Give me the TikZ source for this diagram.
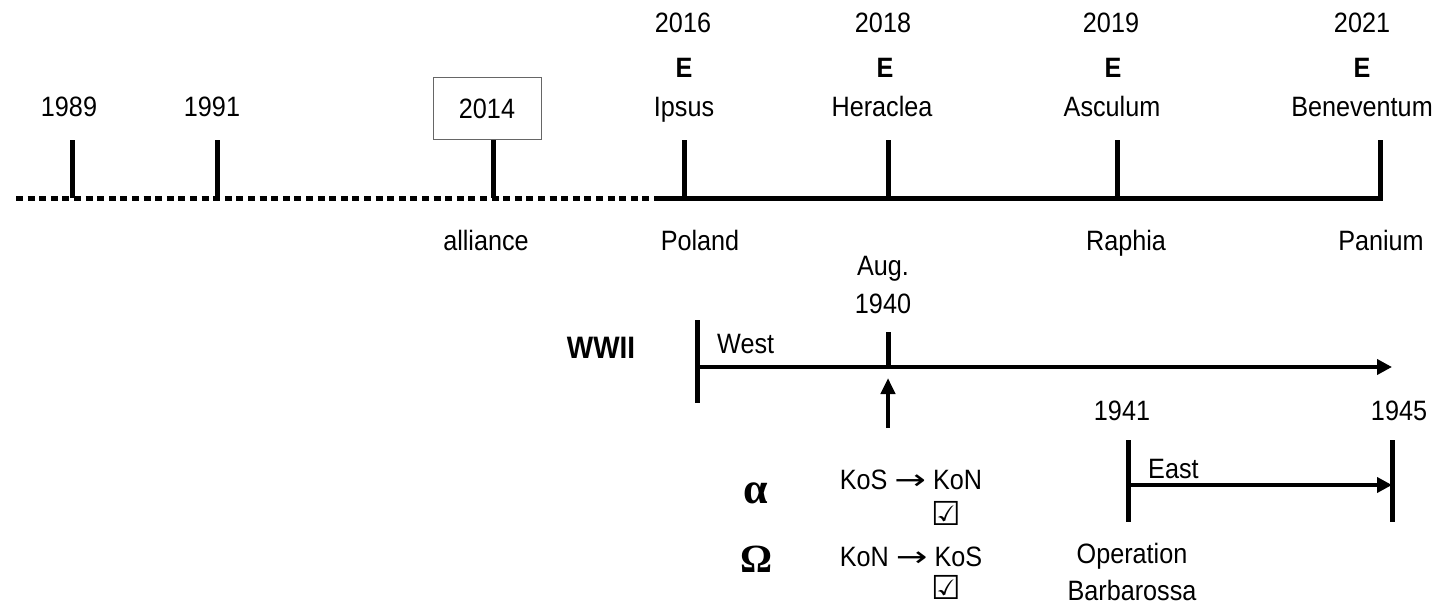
\documentclass[tikz,border=0pt]{standalone}
\usepackage{graphicx}
\usepackage{fontspec}
\setmainfont{Liberation Sans}[FakeStretch=0.9]
\newfontfamily\greekfont{Liberation Serif}
\newfontfamily\symfont{DejaVu Sans}
\usetikzlibrary{arrows.meta}
\newcommand{\longarr}{{\symfont\scalebox{1.35}[1]{→}}}
\begin{document}
\begin{tikzpicture}[x=1pt,y=-1pt,
  lbl/.style={inner sep=0pt,anchor=base,font=\fontsize{28}{30}\selectfont},
  ebold/.style={lbl,font=\fontsize{28}{30}\selectfont\bfseries},
  chkmark/.style={lbl,font=\fontsize{33}{35}\symfont\bfseries},
  tickline/.style={line width=5pt},
  mainline/.style={line width=5pt,line join=miter},
  dotline/.style={line width=5pt,dash pattern=on 7pt off 4.6pt},
  arrowline/.style={line width=4pt,-{Triangle[length=15pt,width=15pt]}},
  yearbox/.style={draw=black!60,line width=1pt,minimum width=108pt,minimum height=61pt,inner sep=0pt,font=\fontsize{28}{30}\selectfont}
]
\useasboundingbox (0,0) rectangle (1442,607);

% ---------- upper timeline ----------
\coordinate (dotA) at (16,198);
\coordinate (dotB) at (660,198);
\draw[dotline] (dotA) -- (dotB);

% tick coordinates
\foreach \n/\x in {a/72,b/217,c/493,d/684,e/888,f/1117,g/1380}{
  \coordinate (tt\n) at (\x,140);
  \coordinate (tb\n) at (\x,198);
}
\draw[mainline] (dotB) -- (tbg) -- (ttg);
\foreach \n in {a,b,c,d,e,f}{
  \draw[tickline] (tb\n) -- (tt\n);
}

% years
\node[lbl] (y2016) at (683,33) {2016};
\node[lbl] (y2018) at (883,33) {2018};
\node[lbl] (y2019) at (1111,33) {2019};
\node[lbl] (y2021) at (1362,33) {2021};
% E marks
\node[ebold] (e2016) at (684,78) {E};
\node[ebold] (e2018) at (885,78) {E};
\node[ebold] (e2019) at (1113,78) {E};
\node[ebold] (e2021) at (1362,78) {E};
% names
\node[lbl] (y1989) at (69,117) {1989};
\node[lbl] (y1991) at (212,117) {1991};
\node[yearbox] (y2014) at (487,108.5) {2014};
\node[lbl] (ipsus) at (684,117) {Ipsus};
\node[lbl] (heraclea) at (882,117) {Heraclea};
\node[lbl] (asculum) at (1112,117) {Asculum};
\node[lbl] (beneventum) at (1362,117) {Beneventum};
% below
\node[lbl] (alliance) at (486,250) {alliance};
\node[lbl] (poland) at (700,250) {Poland};
\node[lbl] (raphia) at (1126,250) {Raphia};
\node[lbl] (panium) at (1381,250) {Panium};

% ---------- WWII ----------
\node[lbl] (aug) at (883,275) {Aug.};
\node[lbl] (y1940) at (883,313) {1940};
\node[lbl,font=\fontsize{31}{33}\selectfont\bfseries] (wwii) at (601,358) {WWII};

\coordinate (westT) at (697,320);
\coordinate (westB) at (697,403);
\coordinate (westL) at (697,367);
\coordinate (westR) at (1392,367);
\draw[tickline] (westT) -- (westB);
\draw[arrowline] (westL) -- (westR);
\node[lbl,anchor=base west] (west) at (717,353) {West};

\coordinate (augT) at (888,332);
\coordinate (augB) at (888,367);
\draw[tickline] (augT) -- (augB);
\coordinate (upA) at (888,428);
\coordinate (upB) at (888,378);
\draw[line width=4pt,-{Triangle[length=16pt,width=14pt]}] (upA) -- (upB);

\node[lbl] (y1941) at (1122,420) {1941};
\node[lbl] (y1945) at (1399,420) {1945};

\coordinate (eLT) at (1128,440);
\coordinate (eLB) at (1128,522);
\coordinate (eRT) at (1392,440);
\coordinate (eRB) at (1392,522);
\coordinate (eA) at (1128,485);
\coordinate (eB) at (1392,485);
\draw[tickline] (eLT) -- (eLB);
\draw[tickline] (eRT) -- (eRB);
\draw[arrowline] (eA) -- (eB);
\node[lbl,anchor=base west] (east) at (1148,478) {East};
\node[lbl] (operation) at (1132,563) {Operation};
\node[lbl] (barbarossa) at (1132,600) {Barbarossa};

% ---------- alpha / omega ----------
\node[lbl,font=\fontsize{44}{46}\greekfont\bfseries] (alpha) at (756,503) {α};
\node[lbl,font=\fontsize{40}{42}\greekfont\bfseries] (omega) at (757,572) {Ω};
\node[lbl] (kos) at (911,489) {KoS \longarr{} KoN};
\node[chkmark] (chk1) at (946,525) {☑};
\node[lbl] (kon) at (911,566) {KoN \longarr{} KoS};
\node[chkmark] (chk2) at (946,599) {☑};
\end{tikzpicture}
\end{document}
